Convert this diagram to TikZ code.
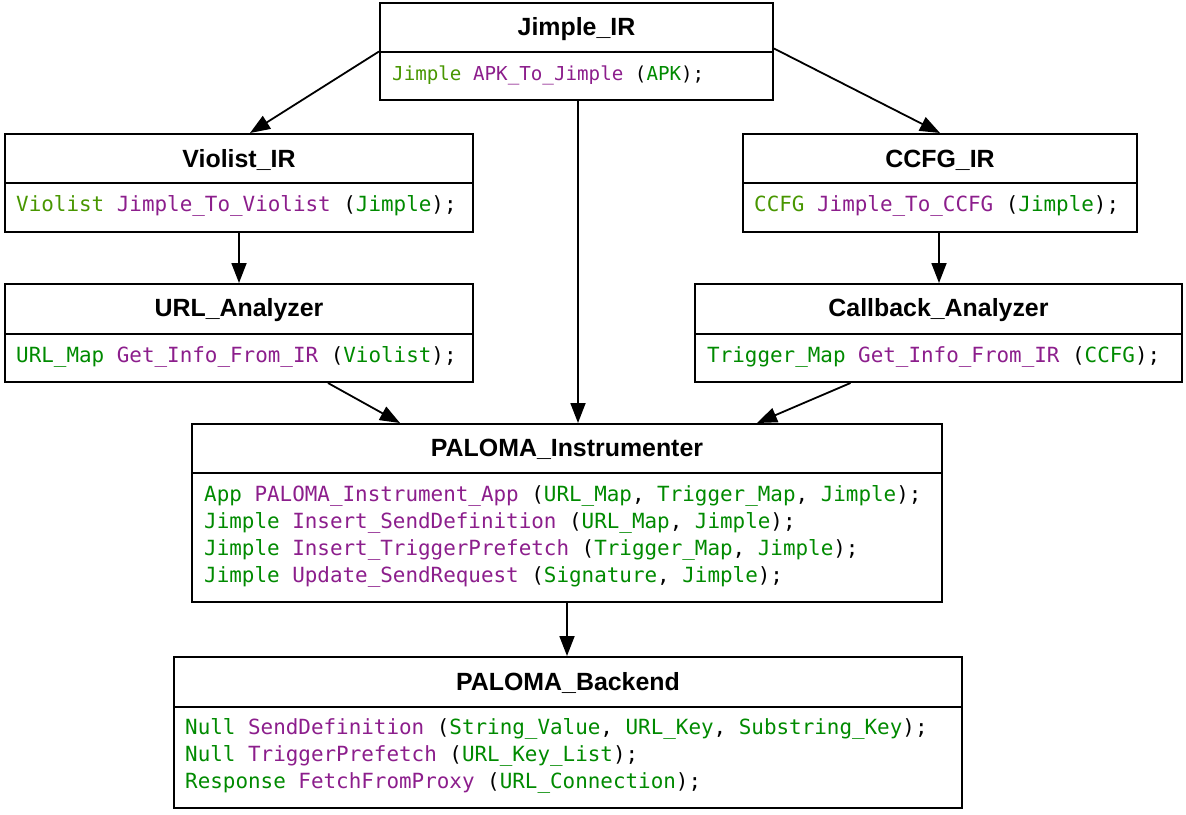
\documentclass[tikz,border=0pt]{standalone}
\usepackage{fontspec}
\setmainfont{Liberation Sans}
\newfontfamily\codefont{DejaVu Sans Mono}
\usetikzlibrary{arrows.meta,calc}
\definecolor{olive}{RGB}{72,150,0}
\definecolor{tgreen}{RGB}{0,138,0}
\definecolor{fpurple}{RGB}{140,30,140}
\newcommand{\ty}[1]{\textcolor{tgreen}{#1}}
\newcommand{\ol}[1]{\textcolor{olive}{#1}}
\newcommand{\fn}[1]{\textcolor{fpurple}{#1}}
\tikzset{
  box/.style={draw=black, line width=2pt, rectangle, inner sep=0pt},
  ttl/.style={font=\fontsize{24.9}{28}\selectfont\bfseries, inner sep=0pt},
  code/.style={font=\codefont\fontsize{20.9}{27}\selectfont, inner sep=0pt, anchor=west, align=left},
  arr/.style={line width=1.8pt, -{Triangle[length=20pt,width=15pt]}},
  divl/.style={line width=1.8pt}
}
\begin{document}
\begin{tikzpicture}[x=1pt,y=-1pt]
\useasboundingbox (0,0) rectangle (1186,814);
% boxes
\node[box, minimum width=393pt, minimum height=97pt] (jim) at (576.5,51.5) {};
\node[box, minimum width=468pt, minimum height=98pt] (vio) at (239,183) {};
\node[box, minimum width=468pt, minimum height=98pt] (url) at (239,333) {};
\node[box, minimum width=394pt, minimum height=98pt] (ccfg) at (940,183) {};
\node[box, minimum width=487pt, minimum height=98pt] (cb) at (938.5,333) {};
\node[box, minimum width=750pt, minimum height=178pt] (ins) at (567,513) {};
\node[box, minimum width=788pt, minimum height=151pt] (be) at (568,732.5) {};
% dividers
\draw[divl] (jim.west |- 0,52) -- (jim.east |- 0,52);
\draw[divl] (vio.west |- 0,183) -- (vio.east |- 0,183);
\draw[divl] (url.west |- 0,334) -- (url.east |- 0,334);
\draw[divl] (ccfg.west |- 0,183) -- (ccfg.east |- 0,183);
\draw[divl] (cb.west |- 0,334) -- (cb.east |- 0,334);
\draw[divl] (ins.west |- 0,473) -- (ins.east |- 0,473);
\draw[divl] (be.west |- 0,707) -- (be.east |- 0,707);
% titles
\node[ttl] (jimt) at (576.5,29) {Jimple\_IR};
\node[ttl] (viot) at (239,160) {Violist\_IR};
\node[ttl] (urlt) at (239,310) {URL\_Analyzer};
\node[ttl] (ccfgt) at (940,160) {CCFG\_IR};
\node[ttl] (cbt) at (938.5,310) {Callback\_Analyzer};
\node[ttl] (inst) at (567,449) {PALOMA\_Instrumenter};
\node[ttl] (bet) at (568,683) {PALOMA\_Backend};
% code
\node[code, font=\codefont\fontsize{19.2}{27}\selectfont] (jimc) at (392,75) {\ol{Jimple} \fn{APK\_To\_Jimple} (\ty{APK});};
\node[code] (vioc) at (16,206) {\ol{Violist} \fn{Jimple\_To\_Violist} (\ty{Jimple});};
\node[code] (urlc) at (16,357) {\ty{URL\_Map} \fn{Get\_Info\_From\_IR} (\ty{Violist});};
\node[code] (ccfgc) at (754,206) {\ol{CCFG} \fn{Jimple\_To\_CCFG} (\ty{Jimple});};
\node[code] (cbc) at (707,357) {\ty{Trigger\_Map} \fn{Get\_Info\_From\_IR} (\ty{CCFG});};
\node[code] (insc) at (204,536) {\ty{App} \fn{PALOMA\_Instrument\_App} (\ty{URL\_Map}, \ty{Trigger\_Map}, \ty{Jimple});\\
\ty{Jimple} \fn{Insert\_SendDefinition} (\ty{URL\_Map}, \ty{Jimple});\\
\ty{Jimple} \fn{Insert\_TriggerPrefetch} (\ty{Trigger\_Map}, \ty{Jimple});\\
\ty{Jimple} \fn{Update\_SendRequest} (\ty{Signature}, \ty{Jimple});};
\node[code] (bec) at (185,756) {\ty{Null} \fn{SendDefinition} (\ty{String\_Value}, \ty{URL\_Key}, \ty{Substring\_Key});\\
\ty{Null} \fn{TriggerPrefetch} (\ty{URL\_Key\_List});\\
\ty{Response} \fn{FetchFromProxy} (\ty{URL\_Connection});};
% connectors
\draw[arr] (jim.west) -- ([xshift=11pt]vio.north);
\draw[arr] ([yshift=3pt]jim.east) -- (ccfg.north);
\draw[arr] ([xshift=1.5pt]jim.south) -- ([xshift=1.5pt]jim.south |- ins.north);
\draw[arr] (vio.south) -- (url.north);
\draw[arr] ([xshift=-1pt]ccfg.south) -- ([xshift=-1pt]ccfg.south |- cb.north);
\draw[arr] ([xshift=89pt]url.south) -- ([xshift=-167pt]ins.north);
\draw[arr] ([xshift=-88pt]cb.south) -- ([xshift=190pt]ins.north);
\draw[arr] (ins.south) -- (ins.south |- be.north);
\end{tikzpicture}
\end{document}
